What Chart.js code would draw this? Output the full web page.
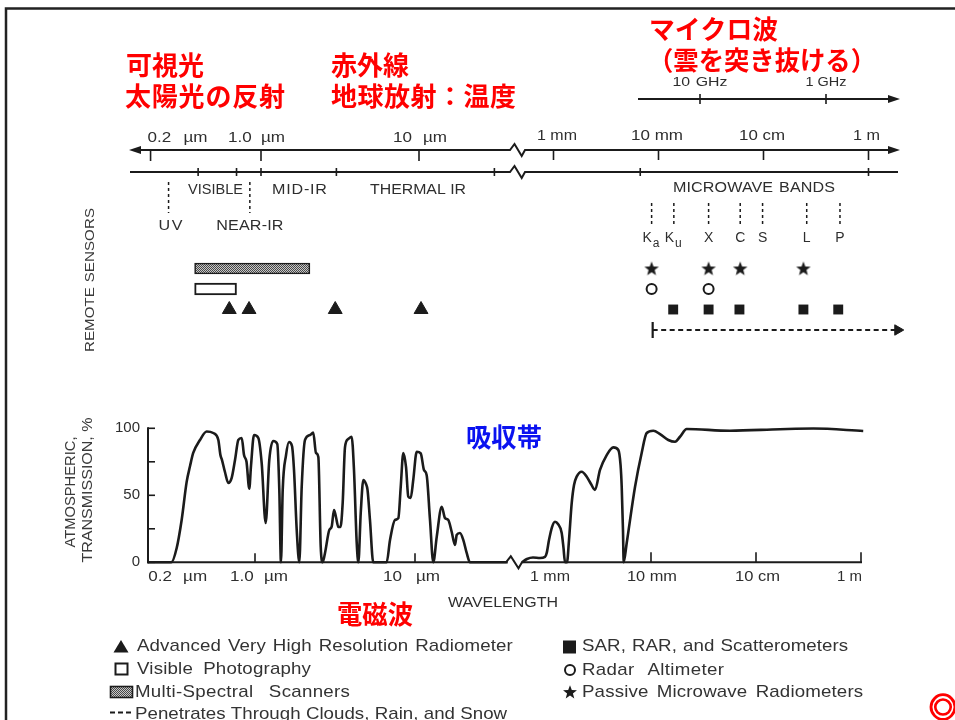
<!DOCTYPE html>
<html><head><meta charset="utf-8">
<script src="https://cdn.jsdelivr.net/npm/chart.js@4.4.1/dist/chart.umd.min.js"></script>
<style>html,body{margin:0;padding:0;background:#fff;overflow:hidden}canvas{display:block}</style>
</head><body>
<canvas id="chart" width="955" height="720"></canvas>
<script>
// ---------------- data ----------------
const opticalWavelengthUm = [0.214, 0.30, 0.324, 0.348, 0.374, 0.393, 0.411, 0.453, 0.499, 0.548, 0.590, 0.608, 0.622, 0.649, 0.681, 0.715, 0.750, 0.787, 0.826, 0.854, 0.885, 0.921, 0.944, 0.986, 1.049, 1.101, 1.166, 1.228, 1.301, 1.378, 1.419, 1.453, 1.490, 1.563, 1.631, 1.703, 1.753, 1.823, 1.892, 1.958, 2.054, 2.207, 2.312, 2.405, 2.488, 2.574, 2.649, 2.739, 2.911, 3.014, 3.117, 3.206, 3.318, 3.42, 3.532, 3.652, 3.828, 4.018, 4.156, 4.323, 4.426, 4.58, 4.755, 4.94, 5.05, 5.23, 5.485, 6.65, 6.98, 7.50, 7.87, 8.14, 8.45, 8.79, 9.08, 9.40, 9.75, 10.25, 10.86, 11.38, 11.83, 12.41, 13.01, 13.67, 14.69, 15.40, 16.15, 16.95, 17.78, 18.23, 19.10, 20.05, 21.04, 22.07, 38];
const opticalTransmissionPct = [0, 0, 10.7, 31.6, 60, 72, 81.6, 91.3, 97.6, 96.5, 91.3, 80, 76.3, 67.4, 59.2, 63, 76.3, 91.3, 92.8, 80, 75, 55, 72, 95, 92.8, 74, 29.3, 76.3, 90.5, 88.3, 54, 0, 54, 80, 89.8, 86.8, 68.9, 24, 0, 56, 91.3, 95, 96.9, 81.6, 78.6, 12, 0, 7, 24, 26.6, 39, 33.8, 26.3, 26.3, 44.3, 86, 92, 93.7, 68.9, 14.4, 0, 36.8, 61.4, 58.4, 54, 31.6, 0, 0, 16.6, 31.6, 33, 56, 81.6, 71, 49, 48, 61.4, 82.5, 81.3, 68.9, 65, 31.6, 0, 19, 41.5, 33, 31.6, 22.8, 12.9, 20.4, 21.9, 16.6, 7, 0, 0];
const microwaveWavelengthCm = [0.0591, 0.0659, 0.0752, 0.0877, 0.0978, 0.1016, 0.1068, 0.1141, 0.1218, 0.1301, 0.1411, 0.1468, 0.1517, 0.1585, 0.1656, 0.1758, 0.1849, 0.1959, 0.2187, 0.2442, 0.2683, 0.2929, 0.3268, 0.3785, 0.4375, 0.4885, 0.5129, 0.5261, 0.5410, 0.5495, 0.5870, 0.7047, 0.8150, 0.9098, 1.052, 1.218, 1.462, 1.694, 1.889, 2.188, 5.65, 16.9, 35.2, 105];
const microwaveTransmissionPct = [0, 2.5, 3.6, 3.2, 4, 7, 16.6, 26.3, 30.3, 28.6, 21.9, 10.7, 0, 0, 16.6, 44.3, 57.7, 63.9, 67.6, 63.9, 58.4, 54, 68.9, 80, 85.8, 83.8, 72.6, 56.4, 24, 0, 14.4, 56.4, 81.6, 96.5, 98.2, 95.7, 91.3, 90, 93.7, 99.5, 98.2, 99.3, 99.8, 98];

const transmissionTicks = [0, 25, 50, 75, 100];
const transmissionTickLabels = ['0', '', '50', '', '100'];

const topOpticalTicksUm = [0.2, 1.0, 10];
const topOpticalTickLabels = ['0.2 µm', '1.0 µm', '10 µm'];
const topMicrowaveTicksCm = [0.1, 1, 10, 100];
const topMicrowaveTickLabels = ['1 mm', '10 mm', '10 cm', '1 m'];
const bottomOpticalTicksUm = [0.2, 1.0, 10];
const bottomOpticalTickLabels = ['0.2 µm', '1.0 µm', '10 µm'];
const bottomMicrowaveTicksCm = [0.1, 1, 10, 100];
const bottomMicrowaveTickLabels = ['1 mm', '10 mm', '10 cm', '1 m'];
const frequencyTicksGHz = [10, 1];
const frequencyTickLabels = ['10 GHz', '1 GHz'];

const regionBoundsUm = [0.4, 0.7, 1.0, 3.0, 30];
const regionBoundsCm = [0.67, 100];
const regionLabels = ['VISIBLE', 'MID-IR', 'THERMAL IR'];
const uvBoundUm = 0.26;
const nearIrBoundUm = 0.85;
const microwaveBandNames = ['Ka', 'Ku', 'X', 'C', 'S', 'L', 'P'];
const microwaveBandCm = [0.86, 1.4, 3.0, 6.0, 9.8, 25.8, 53.5];

const avhrrUm = [0.63, 0.84, 2.95, 10.3];
const photographyRangeUm = [0.38, 0.70];
const multispectralRangeUm = [0.38, 2.04];
const passiveRadiometerCm = [0.86, 3.0, 6.0, 24];
const radarAltimeterCm = [0.86, 3.0];
const sarCm = [1.38, 3.0, 5.9, 24, 51.5];
const penetratesRangeCm = [0.88, 190];
const sensorRow = { multispectral: 1, photography: 2, avhrr: 3, passive: 1, altimeter: 2, sar: 3, penetrates: 4 };

const legendLeft = ['Advanced Very High Resolution Radiometer', 'Visible Photography', 'Multi-Spectral Scanners', 'Penetrates Through Clouds, Rain, and Snow'];
const legendRight = ['SAR, RAR, and Scatterometers', 'Radar Altimeter', 'Passive Microwave Radiometers'];

// ---------------- styles / layout ----------------
const W = 955, H = 720;
const INK = '#1b1b1b';
const TEXT = '#2e2e2e';
const RED = '#ff0000';
const BLUE = '#0a12f0';
const SANS = '"Liberation Sans", Arial, Helvetica, sans-serif';
const CJK = '"Noto Sans CJK JP", "Noto Sans CJK SC", sans-serif';

function logBounds(anchorPx, pxPerDecade, anchorVal) {
  return { min: anchorVal * Math.pow(10, -anchorPx / pxPerDecade), max: anchorVal * Math.pow(10, (W - anchorPx) / pxPerDecade) };
}

// stipple pattern for the multi-spectral bar
const patCanvas = document.createElement('canvas');
patCanvas.width = 4; patCanvas.height = 4;
(function () {
  const g = patCanvas.getContext('2d');
  g.fillStyle = '#c8c8c8'; g.fillRect(0, 0, 4, 4);
  g.fillStyle = '#484848';
  for (let i = 0; i < 4; i++) for (let j = 0; j < 4; j++) if ((i + j) % 2 === 0) g.fillRect(i, j, 1, 1);
})();
const mainCtx = document.getElementById('chart').getContext('2d');
const stipple = mainCtx.createPattern(patCanvas, 'repeat');

function starPath(g, cx, cy, R) {
  const r = R * 0.42;
  g.beginPath();
  for (let i = 0; i < 10; i++) {
    const a = -Math.PI / 2 + i * Math.PI / 5;
    const rr = i % 2 ? r : R;
    g.lineTo(cx + rr * Math.cos(a), cy + rr * Math.sin(a));
  }
  g.closePath();
}
const starImg = document.createElement('canvas');
starImg.width = 16; starImg.height = 16;
(function () { const g = starImg.getContext('2d'); g.fillStyle = INK; starPath(g, 8, 8.6, 7.6); g.fill(); })();

// text helper: fits a string to a target width using a mild horizontal stretch,
// word spacing and letter spacing
function txt(ctx, s, x, y, o) {
  ctx.save();
  ctx.font = (o.weight || 'normal') + ' ' + o.size + 'px ' + (o.family || SANS);
  ctx.fillStyle = o.color || TEXT;
  ctx.textBaseline = 'middle';
  ctx.textAlign = 'left';
  const chars = Array.from(s);
  const n = chars.length;
  const spaces = chars.filter(c => c === ' ').length;
  const w0 = ctx.measureText(s).width;
  let sx = 1, w = w0;
  if (o.width) {
    if (!('letterSpacing' in ctx)) {
      sx = o.width / w0;
    } else {
      sx = Math.min(o.stretch || 1, o.width / w0);
      const rem = o.width - w0 * sx;
      let ls = 0, ws = 0;
      if (spaces > 0 && 'wordSpacing' in ctx) {
        const share = o.wordShare == null ? 0.75 : o.wordShare;
        ws = rem * share / spaces;
        ls = n > 1 ? rem * (1 - share) / (n - 1) : 0;
      } else {
        ls = n > 1 ? rem / (n - 1) : 0;
      }
      ctx.letterSpacing = (ls / sx).toFixed(2) + 'px';
      if ('wordSpacing' in ctx) ctx.wordSpacing = (ws / sx).toFixed(2) + 'px';
    }
    w = o.width;
  }
  let left = x;
  if (o.align === 'center') left = x - w / 2;
  else if (o.align === 'right') left = x - w;
  ctx.translate(left, y);
  ctx.scale(sx, 1);
  if (o.strokeW) { ctx.strokeStyle = o.color || TEXT; ctx.lineWidth = o.strokeW; ctx.strokeText(s, 0, 0); }
  ctx.fillText(s, 0, 0);
  ctx.restore();
}

function hline(ctx, x0, x1, y) { ctx.beginPath(); ctx.moveTo(x0, y); ctx.lineTo(x1, y); ctx.stroke(); }
function vline(ctx, x, y0, y1) { ctx.beginPath(); ctx.moveTo(x, y0); ctx.lineTo(x, y1); ctx.stroke(); }
function brokenLine(ctx, x0, x1, y, b0, b1, up, down) {
  ctx.beginPath();
  ctx.moveTo(x0, y); ctx.lineTo(b0, y);
  ctx.lineTo(b0 + (b1 - b0) * 0.3, y - up);
  ctx.lineTo(b0 + (b1 - b0) * 0.78, y + down);
  ctx.lineTo(b1, y); ctx.lineTo(x1, y);
  ctx.stroke();
}
function arrowHead(ctx, tipX, y, dir, len, half) {
  ctx.beginPath(); ctx.moveTo(tipX, y); ctx.lineTo(tipX - dir * len, y - half); ctx.lineTo(tipX - dir * len, y + half); ctx.closePath(); ctx.fill();
}

// label offsets (pixels, relative to tick) and widths
const topOptLabelDx = [-3, -33, -26], topOptLabelW = [60, 57, 54];
const topMwLabelDx = [-16.5, -27.5, -24.5, -15.5], topMwLabelW = [40, 52, 46, 27];
const botOptLabelDx = [5, -25, -32], botOptLabelW = [59, 58, 57];
const botMwLabelDx = [-16, -24, -21, -24], botMwLabelW = [40, 50, 45, 25];
const axisFont = { size: 14, stretch: 1.22, wordShare: 1 };

const artPlugin = {
  id: 'art',
  beforeDatasetsDraw(chart) {
    const ctx = chart.ctx, S = chart.scales;
    const px = (id, v) => S[id].getPixelForValue(v);
    ctx.save();
    // frame
    ctx.strokeStyle = '#222'; ctx.lineWidth = 2.5;
    ctx.beginPath(); ctx.moveTo(6, H + 5); ctx.lineTo(6, 8.5); ctx.lineTo(W + 5, 8.5); ctx.stroke();

    ctx.strokeStyle = INK; ctx.fillStyle = INK; ctx.lineWidth = 2;
    // frequency axis
    const yF = 99;
    hline(ctx, 638, 890, yF); arrowHead(ctx, 900, yF, 1, 12, 4);
    frequencyTicksGHz.forEach((f, i) => {
      const x = px('xF', f);
      ctx.lineWidth = 1.6; vline(ctx, x, yF - 5, yF + 5); ctx.lineWidth = 2;
      txt(ctx, frequencyTickLabels[i], x, 82, Object.assign({}, axisFont, { size: 13, align: 'center', width: i === 0 ? 55 : 41 }));
    });

    // wavelength line 1
    const y1 = 150;
    brokenLine(ctx, 140, 890, y1, 510, 525, 6, 6);
    arrowHead(ctx, 129, y1, -1, 12, 4);
    arrowHead(ctx, 900, y1, 1, 12, 4);
    ctx.lineWidth = 1.6;
    topOpticalTicksUm.forEach((v, i) => {
      const x = px('xTopO', v); vline(ctx, x, y1, y1 + 11);
      txt(ctx, topOpticalTickLabels[i], x + topOptLabelDx[i], 138, Object.assign({ width: topOptLabelW[i] }, axisFont));
    });
    topMicrowaveTicksCm.forEach((v, i) => {
      const x = px('xTopM', v); vline(ctx, x, y1, y1 + 10);
      txt(ctx, topMicrowaveTickLabels[i], x + topMwLabelDx[i], 136, Object.assign({ width: topMwLabelW[i] }, axisFont));
    });
    ctx.lineWidth = 2;
    // wavelength line 2 (regions)
    const y2 = 172;
    brokenLine(ctx, 130, 898, y2, 510, 525, 6, 6);
    ctx.lineWidth = 1.6;
    regionBoundsUm.forEach(v => { const x = px('xTopO', v); vline(ctx, x, y2 - 4, y2 + 4); });
    regionBoundsCm.forEach(v => { const x = px('xTopM', v); vline(ctx, x, y2 - 4, y2 + 4); });
    // region labels
    const rf = { size: 14, align: 'center', stretch: 1.15, wordShare: 0.45 };
    txt(ctx, regionLabels[0], 215.5, 190, Object.assign({ width: 55 }, rf));
    txt(ctx, regionLabels[1], 299.5, 190, Object.assign({ width: 55 }, rf));
    txt(ctx, regionLabels[2], 418, 190, Object.assign({ width: 96 }, rf));
    txt(ctx, 'MICROWAVE BANDS', 754, 188, Object.assign({ width: 162 }, rf));
    // dashed region markers
    ctx.setLineDash([3, 3]); ctx.lineWidth = 1.5;
    vline(ctx, px('xTopO', uvBoundUm), 182, 213);
    vline(ctx, px('xTopO', nearIrBoundUm), 182, 213);
    microwaveBandCm.forEach(v => vline(ctx, px('xTopM', v), 203, 226));
    ctx.setLineDash([]);
    txt(ctx, 'UV', px('xTopO', uvBoundUm) + 2, 226, Object.assign({ width: 24 }, rf));
    txt(ctx, 'NEAR-IR', px('xTopO', nearIrBoundUm), 226, Object.assign({ width: 67 }, rf));
    microwaveBandNames.forEach((b, i) => {
      const x = px('xTopM', microwaveBandCm[i]);
      if (b.length === 2) {
        txt(ctx, 'K', x - 4.5, 238, { size: 14, align: 'center' });
        txt(ctx, b[1], x + 4.5, 244, { size: 12, align: 'center' });
      } else {
        txt(ctx, b, x, 238, { size: 14, align: 'center' });
      }
    });
    // side titles
    const sf = { size: 13, align: 'center', color: '#3a3a3a', stretch: 1.16, wordShare: 0.3 };
    ctx.save(); ctx.translate(90, 280); ctx.rotate(-Math.PI / 2);
    txt(ctx, 'REMOTE SENSORS', 0, 0, Object.assign({ width: 144 }, sf)); ctx.restore();
    ctx.save(); ctx.translate(71, 492); ctx.rotate(-Math.PI / 2);
    txt(ctx, 'ATMOSPHERIC,', 0, 0, Object.assign({ width: 111 }, sf, { size: 14 })); ctx.restore();
    ctx.save(); ctx.translate(88, 490); ctx.rotate(-Math.PI / 2);
    txt(ctx, 'TRANSMISSION, %', 0, 0, Object.assign({ width: 145 }, sf, { size: 14 })); ctx.restore();

    // transmission axes
    ctx.lineWidth = 2;
    const yTop = px('yT', 100), y0 = px('yT', 0);
    vline(ctx, 148, yTop - 1, y0 + 1);
    transmissionTicks.forEach((v, i) => {
      const y = px('yT', v);
      ctx.lineWidth = 1.6; hline(ctx, 148, 155, y);
      if (transmissionTickLabels[i]) txt(ctx, transmissionTickLabels[i], 140, y, { size: 15, align: 'right' });
    });
    ctx.lineWidth = 2;
    brokenLine(ctx, 147, 862, y0, 506, 522, 6, 6);
    ctx.lineWidth = 1.6;
    bottomOpticalTicksUm.forEach((v, i) => {
      const x = px('xBotO', v);
      if (x > 149) vline(ctx, x, y0 - 9, y0);
      txt(ctx, bottomOpticalTickLabels[i], x + botOptLabelDx[i], 577, Object.assign({ width: botOptLabelW[i] }, axisFont));
    });
    bottomMicrowaveTicksCm.forEach((v, i) => {
      const x = px('xBotM', v);
      if (i > 0) vline(ctx, x, y0 - 10, y0);
      txt(ctx, bottomMicrowaveTickLabels[i], x + botMwLabelDx[i], 577, Object.assign({ width: botMwLabelW[i] }, axisFont));
    });
    txt(ctx, 'WAVELENGTH', 503, 603, Object.assign({ width: 110 }, rf));

    // legend swatches
    ctx.fillStyle = INK; ctx.strokeStyle = INK;
    ctx.beginPath(); ctx.moveTo(113.5, 652.5); ctx.lineTo(128.5, 652.5); ctx.lineTo(121, 640); ctx.closePath(); ctx.fill();
    ctx.lineWidth = 2; ctx.strokeRect(115.5, 663.5, 12, 11);
    ctx.fillStyle = stipple; ctx.fillRect(110.5, 686.5, 22, 11);
    ctx.fillStyle = INK; ctx.lineWidth = 1.6; ctx.strokeRect(110.5, 686.5, 22, 11);
    ctx.lineWidth = 2; ctx.setLineDash([5, 3]); hline(ctx, 110, 134, 712.5); ctx.setLineDash([]);
    ctx.fillRect(563, 640.5, 13, 13);
    ctx.beginPath(); ctx.arc(570, 670, 5, 0, Math.PI * 2); ctx.stroke();
    starPath(ctx, 570, 692.5, 7.3); ctx.fill();
    // legend text
    const lf = { size: 17, color: '#333', stretch: 1.1, wordShare: 0.6 };
    txt(ctx, legendLeft[0], 137, 646.5, Object.assign({ width: 376 }, lf));
    txt(ctx, legendLeft[1], 137, 669.5, Object.assign({ width: 174 }, lf));
    txt(ctx, legendLeft[2], 135, 692, Object.assign({ width: 215 }, lf));
    txt(ctx, legendLeft[3], 135, 714, Object.assign({ width: 372 }, lf));
    txt(ctx, legendRight[0], 582, 646.5, Object.assign({ width: 266 }, lf));
    txt(ctx, legendRight[1], 582, 670, Object.assign({ width: 142 }, lf));
    txt(ctx, legendRight[2], 582, 692.5, Object.assign({ width: 281 }, lf));

    // Japanese annotations
    const jp = { size: 26, weight: 'bold', family: CJK, color: RED };
    txt(ctx, '可視光', 126, 65, Object.assign({ width: 78 }, jp));
    txt(ctx, '太陽光の反射', 125, 96, Object.assign({ width: 160 }, jp));
    txt(ctx, '赤外線', 331, 65, Object.assign({ width: 78 }, jp));
    txt(ctx, '地球放射：温度', 331, 96, Object.assign({ width: 185 }, jp));
    txt(ctx, 'マイクロ波', 649, 29, Object.assign({ width: 129 }, jp));
    txt(ctx, '（雲を突き抜ける）', 648, 60, Object.assign({ width: 228 }, jp));
    txt(ctx, '吸収帯', 466, 437, Object.assign({}, jp, { color: BLUE, width: 76 }));
    txt(ctx, '電磁波', 337, 614, Object.assign({ width: 76 }, jp));
    txt(ctx, '◎', 943, 707, { size: 28, weight: 'bold', family: CJK, color: RED, align: 'center', strokeW: 1.6 });
    ctx.restore();
  }
};

const hidden = { display: false, bounds: 'data', offset: false, grid: { display: false, offset: false }, ticks: { display: false } };
const rowPts = (xs, row) => xs.map(x => ({ x, y: row }));

new Chart(mainCtx, {
  type: 'line',
  data: {
    datasets: [
      { label: 'Atmospheric transmission (optical/IR)', data: opticalWavelengthUm.map((x, i) => ({ x, y: opticalTransmissionPct[i] })),
        xAxisID: 'xBotO', yAxisID: 'yT', borderColor: INK, borderWidth: 2.6, pointRadius: 0, fill: false, cubicInterpolationMode: 'monotone' },
      { label: 'Atmospheric transmission (microwave)', data: microwaveWavelengthCm.map((x, i) => ({ x, y: microwaveTransmissionPct[i] })),
        xAxisID: 'xBotM', yAxisID: 'yT', borderColor: INK, borderWidth: 2.6, pointRadius: 0, fill: false, cubicInterpolationMode: 'monotone' },
      { type: 'bar', label: legendLeft[2], indexAxis: 'y', data: [{ x: multispectralRangeUm, y: sensorRow.multispectral }],
        xAxisID: 'xTopO', yAxisID: 'yR', backgroundColor: stipple, borderColor: INK, borderWidth: 1.6, borderSkipped: false,
        grouped: false, barPercentage: 1, categoryPercentage: 1, maxBarThickness: 11 },
      { type: 'bar', label: legendLeft[1], indexAxis: 'y', data: [{ x: photographyRangeUm, y: sensorRow.photography }],
        xAxisID: 'xTopO', yAxisID: 'yR', backgroundColor: '#fff', borderColor: INK, borderWidth: 2, borderSkipped: false,
        grouped: false, barPercentage: 1, categoryPercentage: 1, maxBarThickness: 12 },
      { type: 'scatter', label: legendLeft[0], data: rowPts(avhrrUm, sensorRow.avhrr), xAxisID: 'xTopO', yAxisID: 'yR',
        pointStyle: 'triangle', pointRadius: 8, backgroundColor: INK, borderColor: INK, borderWidth: 1 },
      { type: 'scatter', label: legendRight[2], data: rowPts(passiveRadiometerCm, sensorRow.passive), xAxisID: 'xTopM', yAxisID: 'yR',
        pointStyle: starImg, pointRadius: 8 },
      { type: 'scatter', label: legendRight[1], data: rowPts(radarAltimeterCm, sensorRow.altimeter), xAxisID: 'xTopM', yAxisID: 'yR',
        pointStyle: 'circle', pointRadius: 5, backgroundColor: '#fff', borderColor: INK, borderWidth: 2 },
      { type: 'scatter', label: legendRight[0], data: rowPts(sarCm, sensorRow.sar), xAxisID: 'xTopM', yAxisID: 'yR',
        pointStyle: 'rect', pointRadius: 7, backgroundColor: INK, borderColor: INK, borderWidth: 0 },
      { label: legendLeft[3], data: rowPts(penetratesRangeCm, sensorRow.penetrates), xAxisID: 'xTopM', yAxisID: 'yR',
        borderColor: INK, borderWidth: 1.8, borderDash: [5, 3.5], fill: false,
        pointStyle: ['line', 'triangle'], pointRotation: [90, 90], pointRadius: [8, 6],
        pointBorderWidth: [2.2, 1], pointBackgroundColor: INK, pointBorderColor: INK }
    ]
  },
  options: {
    responsive: false, animation: false, devicePixelRatio: 1,
    layout: { autoPadding: false, padding: 0 },
    plugins: { legend: { display: false }, title: { display: false }, tooltip: { enabled: false } },
    events: [],
    scales: {
      xTopO: Object.assign({ type: 'logarithmic', axis: 'x' }, hidden, logBounds(261, 158, 1)),
      xTopM: Object.assign({ type: 'logarithmic', axis: 'x' }, hidden, logBounds(658.5, 105, 1)),
      xBotO: Object.assign({ type: 'logarithmic', axis: 'x' }, hidden, logBounds(255, 160, 1)),
      xBotM: Object.assign({ type: 'logarithmic', axis: 'x' }, hidden, logBounds(651, 105, 1)),
      xF: Object.assign({ type: 'logarithmic', axis: 'x', reverse: true }, hidden,
        { min: 10 * Math.pow(10, -(W - 700) / 126), max: 10 * Math.pow(10, 700 / 126) }),
      yT: Object.assign({ type: 'linear', axis: 'y' }, hidden, { min: -(H - 562.3) / 1.34, max: 562.3 / 1.34 }),
      yR: Object.assign({ type: 'linear', axis: 'y', reverse: true }, hidden, { min: -248 / 20.5, max: (H - 248) / 20.5 })
    }
  },
  plugins: [artPlugin]
});
</script>
</body></html>
